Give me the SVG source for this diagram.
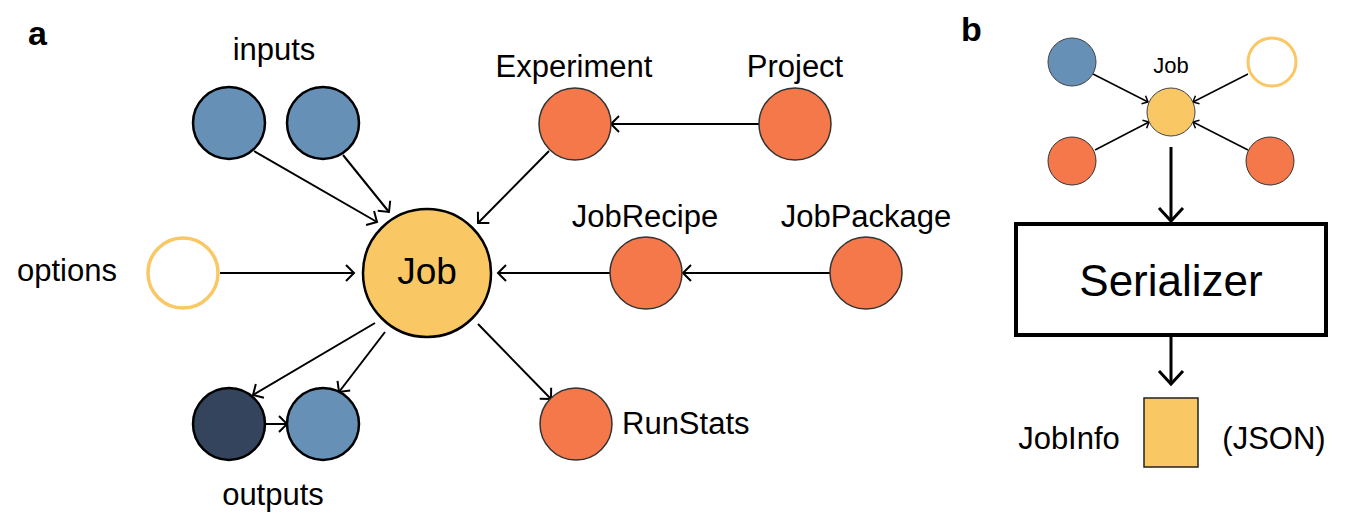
<svg xmlns="http://www.w3.org/2000/svg" width="1363" height="525" viewBox="0 0 1363 525">
<style>
text{font-family:"Liberation Sans",Arial,sans-serif;fill:#000}
.lbl{font-size:31px}
.panel{font-size:34px;font-weight:bold}
.blue{fill:#6690B6;stroke:#000;stroke-width:2.5}
.dark{fill:#33445C;stroke:#000;stroke-width:2.5}
.orange{fill:#F4784A;stroke:#333;stroke-width:1.5}
.yellow{fill:#F9C865;stroke:#000;stroke-width:2.5}
.open{fill:#fff;stroke:#F9C865;stroke-width:3.5}
.sb{stroke:#444;stroke-width:1}
.conn line{stroke:#000;stroke-width:2;fill:none}
.conn line.thin{stroke-width:1.5}
.conn line.thick{stroke-width:3}
</style>
<defs>
<marker id="ah" markerUnits="userSpaceOnUse" viewBox="-12 -10 14 20" refX="0" refY="0" markerWidth="14" markerHeight="20" orient="auto" overflow="visible">
<path d="M-8,-8 L0,0 L-8,8" fill="none" stroke="#000" stroke-width="2"/>
</marker>
<marker id="ahs" markerUnits="userSpaceOnUse" viewBox="-8 -6 10 12" refX="0" refY="0" markerWidth="10" markerHeight="12" orient="auto" overflow="visible">
<path d="M-5,-4.5 L0,0 L-5,4.5" fill="none" stroke="#000" stroke-width="1.5"/>
</marker>
<marker id="ahb" markerUnits="userSpaceOnUse" viewBox="-16 -14 18 28" refX="0" refY="0" markerWidth="18" markerHeight="28" orient="auto" overflow="visible">
<path d="M-13,-12 L0,0 L-13,12" fill="none" stroke="#000" stroke-width="3"/>
</marker>
</defs>
<rect width="1363" height="525" fill="#fff"/>

<text class="panel" x="28" y="45">a</text>
<text class="panel" x="961" y="41">b</text>

<g class="conn" id="connectors">
<line x1="254" y1="151" x2="377" y2="222" marker-end="url(#ah)"/>
<line x1="343" y1="155" x2="389" y2="212" marker-end="url(#ah)"/>
<line x1="549" y1="151" x2="478" y2="223" marker-end="url(#ah)"/>
<line x1="759" y1="124" x2="611" y2="124" marker-end="url(#ah)"/>
<line x1="220" y1="273" x2="354" y2="273" marker-end="url(#ah)"/>
<line x1="610" y1="273" x2="498" y2="273" marker-end="url(#ah)"/>
<line x1="830" y1="273" x2="683" y2="273" marker-end="url(#ah)"/>
<line x1="375" y1="323" x2="253" y2="395" marker-end="url(#ah)"/>
<line x1="385" y1="332" x2="339" y2="392" marker-end="url(#ah)"/>
<line x1="478" y1="324" x2="551" y2="399" marker-end="url(#ah)"/>
<line x1="265" y1="424" x2="287" y2="424" marker-end="url(#ah)"/>

<line class="thin" x1="1093" y1="74" x2="1148" y2="102" marker-end="url(#ahs)"/>
<line class="thin" x1="1248" y1="74" x2="1193" y2="102" marker-end="url(#ahs)"/>
<line class="thin" x1="1095" y1="150" x2="1149" y2="122" marker-end="url(#ahs)"/>
<line class="thin" x1="1248" y1="150" x2="1193" y2="122" marker-end="url(#ahs)"/>
<line class="thick" x1="1171" y1="147" x2="1171" y2="221" marker-end="url(#ahb)"/>
<line class="thick" x1="1171" y1="336" x2="1171" y2="384" marker-end="url(#ahb)"/>
</g>

<g id="input1"><circle class="blue" cx="229" cy="123" r="36"/></g>
<g id="input2"><circle class="blue" cx="323" cy="123" r="36"/></g>
<text class="lbl" x="274" y="60" text-anchor="middle">inputs</text>

<g id="options"><circle class="open" cx="183" cy="273" r="35"/><text class="lbl" x="67" y="281" text-anchor="middle">options</text></g>

<g id="job"><circle class="yellow" cx="427" cy="273" r="64"/><text x="427" y="284" text-anchor="middle" font-size="37">Job</text></g>

<g id="experiment"><circle class="orange" cx="575" cy="124" r="36"/><text class="lbl" x="574" y="77" text-anchor="middle">Experiment</text></g>
<g id="project"><circle class="orange" cx="795" cy="124" r="36"/><text class="lbl" x="795" y="77" text-anchor="middle">Project</text></g>
<g id="jobrecipe"><circle class="orange" cx="646" cy="273" r="36"/><text class="lbl" x="645" y="227" text-anchor="middle">JobRecipe</text></g>
<g id="jobpackage"><circle class="orange" cx="866" cy="273" r="36"/><text class="lbl" x="866" y="227" text-anchor="middle">JobPackage</text></g>
<g id="runstats"><circle class="orange" cx="576" cy="424" r="36"/><text class="lbl" x="622" y="434">RunStats</text></g>

<g id="output1"><circle class="dark" cx="229" cy="424" r="36"/></g>
<g id="output2"><circle class="blue" cx="323" cy="424" r="36"/></g>
<text class="lbl" x="273" y="505" text-anchor="middle">outputs</text>

<g id="b-input"><circle class="blue sb" cx="1072" cy="62" r="24" style="stroke:#444;stroke-width:1"/></g>
<g id="b-options"><circle class="open" cx="1272" cy="62" r="24" style="stroke-width:3"/></g>
<g id="b-job"><circle class="yellow" cx="1171" cy="112" r="24" style="stroke:#444;stroke-width:1"/><text x="1171" y="73" text-anchor="middle" font-size="22">Job</text></g>
<g id="b-orange1"><circle class="orange" cx="1072" cy="161" r="24" style="stroke-width:1"/></g>
<g id="b-orange2"><circle class="orange" cx="1270" cy="161" r="24" style="stroke-width:1"/></g>

<g id="serializer"><rect x="1016" y="224" width="310" height="111" fill="#fff" stroke="#000" stroke-width="4"/><text x="1171" y="296" text-anchor="middle" font-size="44">Serializer</text></g>

<g id="jobinfo"><rect x="1144" y="398" width="54" height="69" fill="#F9C865" stroke="#222" stroke-width="1.5"/><text class="lbl" x="1069" y="449" text-anchor="middle">JobInfo</text><text class="lbl" x="1274" y="449" text-anchor="middle">(JSON)</text></g>
</svg>
